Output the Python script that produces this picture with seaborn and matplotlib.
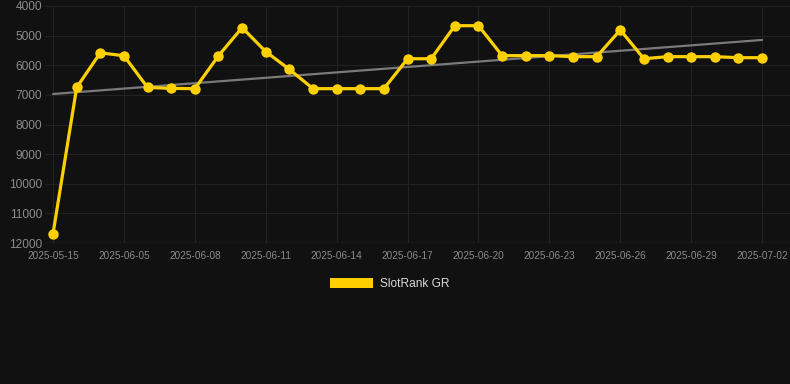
import numpy as np
import pandas as pd
import matplotlib
matplotlib.use("Agg")
import matplotlib.pyplot as plt
from matplotlib.patches import Patch
import seaborn as sns

dates = ["2025-05-15", "2025-06-03", "2025-06-04", "2025-06-05", "2025-06-06", "2025-06-07",
         "2025-06-08", "2025-06-09", "2025-06-10", "2025-06-11", "2025-06-12", "2025-06-13",
         "2025-06-14", "2025-06-15", "2025-06-16", "2025-06-17", "2025-06-18", "2025-06-19",
         "2025-06-20", "2025-06-21", "2025-06-22", "2025-06-23", "2025-06-24", "2025-06-25",
         "2025-06-26", "2025-06-27", "2025-06-28", "2025-06-29", "2025-06-30", "2025-07-01",
         "2025-07-02"]
ranks = [11680, 6750, 5580, 5680, 6750, 6780, 6790, 5680, 4730, 5540, 6140, 6790,
         6790, 6790, 6790, 5780, 5780, 4665, 4665, 5675, 5675, 5675, 5710, 5710,
         4810, 5780, 5710, 5710, 5710, 5745, 5745]
series_name = "SlotRank GR"
y_ticks = [4000, 5000, 6000, 7000, 8000, 9000, 10000, 11000, 12000]

BG = "#111111"
GOLD = "#FFD000"
GRID = "#222222"
TICK = "#8a8a8a"

sns.set_theme(style="dark")
plt.rcParams["font.family"] = ["Liberation Sans", "DejaVu Sans"]

df = pd.DataFrame({"idx": np.arange(len(dates)), "date": dates, "rank": ranks})

fig = plt.figure(figsize=(7.9, 3.84), dpi=100, facecolor=BG)
ax = fig.add_axes([45 / 790, (384 - 243) / 384, (790 - 45) / 790, (243 - 6) / 384])
ax.set_facecolor(BG)

# trend line (linear regression)
coef = np.polyfit(df["idx"], df["rank"], 1)
trend_x = np.array([df["idx"].min(), df["idx"].max()])
trend = pd.DataFrame({"idx": trend_x, "rank": np.polyval(coef, trend_x)})
sns.lineplot(data=trend, x="idx", y="rank", ax=ax, color="#7a7a7a", linewidth=1.6, zorder=2)

sns.lineplot(data=df, x="idx", y="rank", ax=ax, color=GOLD, linewidth=2.3,
             marker="o", markersize=7.5, markeredgewidth=0, zorder=3)

ax.set_ylim(12000, 4000)
ax.set_yticks(y_ticks)
ax.set_yticklabels([str(v) for v in y_ticks])
ax.set_xlim(-0.34, 31.18)
tick_idx = list(range(0, len(dates), 3))
ax.set_xticks(tick_idx)
ax.set_xticklabels([dates[i] for i in tick_idx])

ax.grid(True, color=GRID, linewidth=0.8)
ax.tick_params(axis="y", colors=TICK, labelsize=8.6, length=0, pad=2)
ax.tick_params(axis="x", colors=TICK, labelsize=7.2, length=0, pad=6)
for s in ax.spines.values():
    s.set_visible(False)
ax.axhline(12000, color="#2e2e2e", linewidth=1, zorder=1)
ax.set_xlabel("")
ax.set_ylabel("")

handles = [Patch(facecolor=GOLD, edgecolor="none", label=series_name)]
fig.legend(handles=handles, loc="center", bbox_to_anchor=(390 / 790, 1 - 284 / 384),
           frameon=False, fontsize=8.6, labelcolor="#d8d8d8",
           handlelength=3.6, handleheight=1.0, handletextpad=0.6)

fig.savefig("out.png", dpi=100, facecolor=BG)
